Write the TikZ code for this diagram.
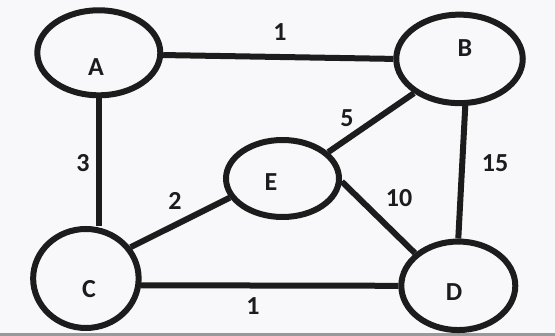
\documentclass[tikz,border=0pt]{standalone}
\usepackage{fontspec}
\setmainfont{Carlito}
\usetikzlibrary{shapes.geometric}
\definecolor{bgcol}{RGB}{248,248,250}
\definecolor{inkcol}{RGB}{28,28,28}
\tikzset{
  vert/.style={ellipse, draw=inkcol, line width=6pt, inner sep=0pt},
  edgeline/.style={draw=inkcol, line width=6pt},
  lbl/.style={inner sep=0pt, text=inkcol, font=\fontsize{26}{30}\selectfont\bfseries}
}
\begin{document}
\begin{tikzpicture}[x=1pt,y=-1pt]
\fill[bgcol] (0,0) rectangle (555,336);
\fill[gray!80] (0,333.5) rectangle (555,336);
\useasboundingbox (0,0) rectangle (555,336);
% vertices
\node[vert, minimum width=123pt, minimum height=85pt] (a) at (98.8,52.8) {};
\node[vert, minimum width=126.5pt, minimum height=88.5pt] (b) at (459.5,58.9) {};
\node[vert, minimum width=113pt, minimum height=77pt] (e) at (282.5,178.5) {};
\node[vert, minimum width=105.5pt, minimum height=99pt] (c) at (85.9,278.5) {};
\node[vert, minimum width=114pt, minimum height=88.5pt] (d) at (458.3,285.8) {};
% vertex labels
\node[lbl] (la) at (96,67) {A};
\node[lbl] (lb) at (465,48) {B};
\node[lbl] (le) at (271,182) {E};
\node[lbl] (lc) at (89,289) {C};
\node[lbl] (ld) at (454,292) {D};
% edges
\draw[edgeline] (a.-2) -- (b.west);
\draw[edgeline] (a.south) -- (a.south |- c.north);
\draw[edgeline] (b.-83) -- (d.north);
\draw[edgeline] (c.35) -- (e.200);
\draw[edgeline] (e.30) -- (b.217);
\draw[edgeline] (e.-3) -- (d.143);
\draw[edgeline] (c.-7) -- (d.west);
% edge weights
\node[lbl] (wab) at (280,32) {1};
\node[lbl] (wac) at (83,163) {3};
\node[lbl] (web) at (347,118) {5};
\node[lbl] (wbd) at (495,163) {15};
\node[lbl] (wce) at (175,201) {2};
\node[lbl] (wed) at (399,198) {10};
\node[lbl] (wcd) at (253,306) {1};
\end{tikzpicture}
\end{document}
